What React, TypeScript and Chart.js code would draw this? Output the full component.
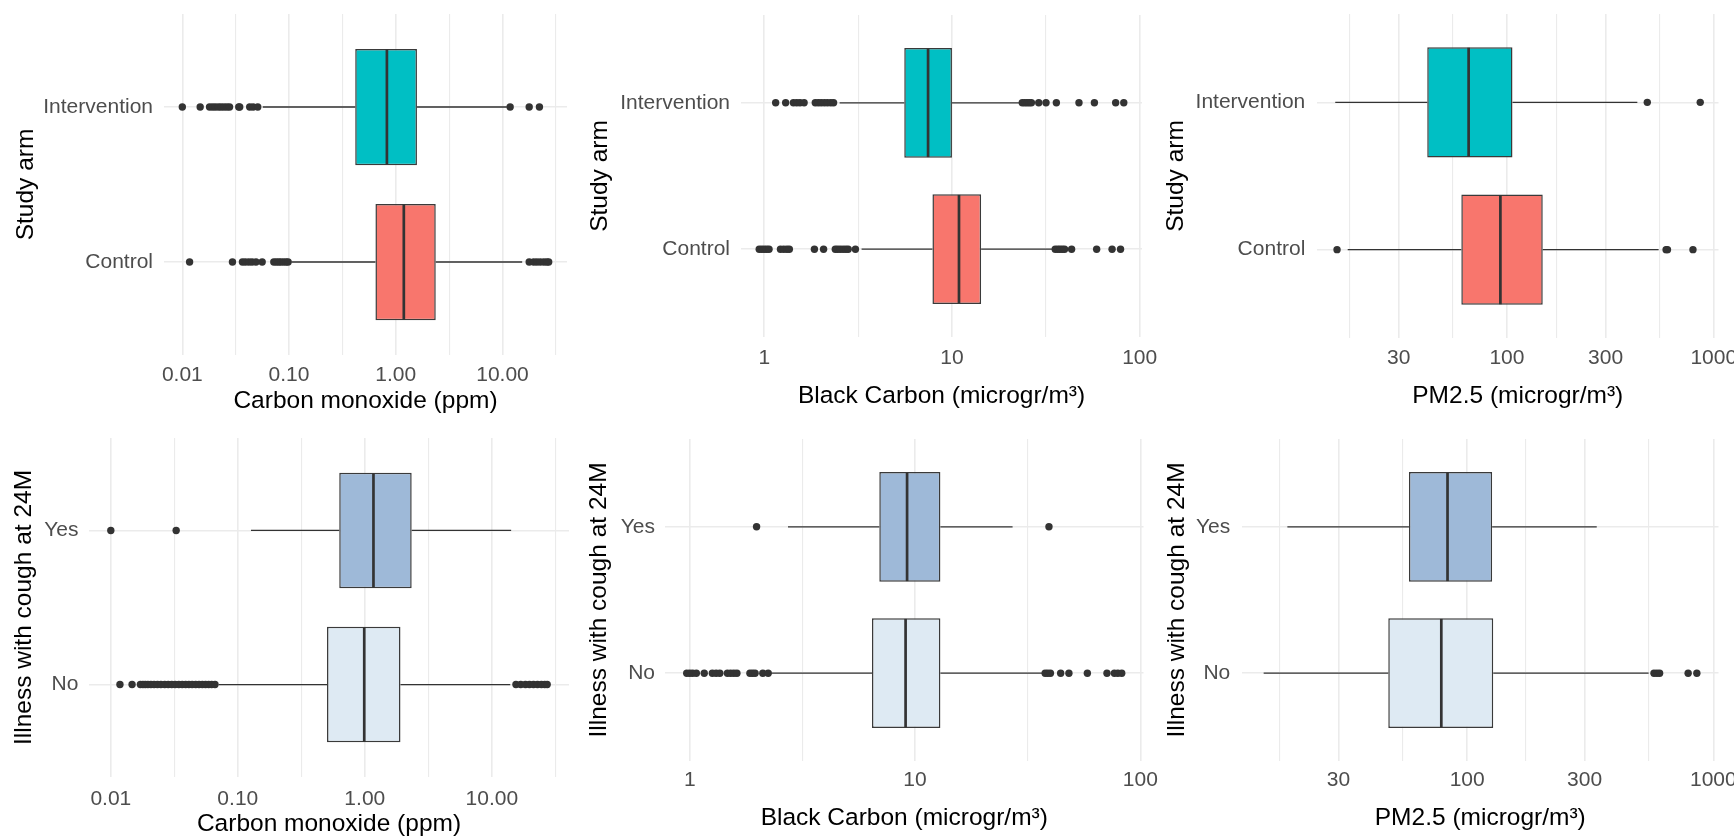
import React, { useEffect, useRef } from 'react';
import { Chart, registerables } from 'chart.js';

Chart.register(...registerables);

const FONT = '"Liberation Sans", Arial, Helvetica, sans-serif';

// ---- Groups (bottom to top) ----
const ARM_GROUPS = ['Control', 'Intervention'];
const COUGH_GROUPS = ['No', 'Yes'];
const ARM_COLORS = ['#F8766D', '#00BFC4'];
const COUGH_COLORS = ['#DEEAF3', '#9EB9D8'];

// ---- Box stats: [lower whisker, Q1, median, Q3, upper whisker] ----
const CO_ARM_STATS = [
  [0.105, 0.645, 1.19, 2.37, 15.3],
  [0.0567, 0.417, 0.826, 1.58, 11.0],
];
const CO_ARM_OUTLIERS = [
  [0.0117, 0.0295, 0.0366, 0.039, 0.042, 0.045, 0.049, 0.056, 0.072, 0.076, 0.08, 0.084, 0.089, 0.094, 0.098,
    17.8, 19.6, 21.0, 22.6, 24.4, 26.0, 27.1],
  [0.01, 0.0147, 0.018, 0.0192, 0.0204, 0.0218, 0.0231, 0.0246, 0.0262, 0.0277, 0.0338, 0.0345, 0.0428, 0.046, 0.0509,
    11.8, 17.8, 22.2],
];

const BC_ARM_STATS = [
  [3.3, 7.87, 10.9, 14.3, 34.7],
  [2.52, 5.57, 7.46, 10.0, 23.2],
];
const BC_ARM_OUTLIERS = [
  [0.94, 0.97, 1.0, 1.03, 1.06, 1.22, 1.27, 1.32, 1.36, 1.85, 2.07, 2.39, 2.46, 2.54, 2.63, 2.72, 2.8, 3.06,
    35.5, 36.6, 37.6, 38.7, 39.8, 43.4, 59.0, 71.3, 79.1],
  [1.15, 1.3, 1.43, 1.49, 1.55, 1.63, 1.87, 1.94, 2.01, 2.09, 2.17, 2.26, 2.34,
    23.7, 24.4, 25.1, 25.8, 26.5, 29.0, 31.7, 36.0, 47.5, 57.4, 74.5, 82.3],
];

const PM_ARM_STATS = [
  [17.0, 60.2, 93.0, 149, 541],
  [14.8, 41.2, 65.3, 106.4, 427],
];
const PM_ARM_OUTLIERS = [
  [15.1, 588, 597, 793],
  [477, 860],
];

const CO_COUGH_STATS = [
  [0.0706, 0.504, 0.99, 1.91, 13.97],
  [0.127, 0.629, 1.17, 2.34, 14.2],
];
const CO_COUGH_OUTLIERS = [
  [0.0118, 0.0147, 0.0171, 0.0179, 0.0187, 0.0196, 0.0207, 0.0219, 0.0233, 0.0248, 0.0266, 0.0283, 0.0302,
    0.0321, 0.0343, 0.0365, 0.0388, 0.0412, 0.0437, 0.0466, 0.0495, 0.0526, 0.0557, 0.0589, 0.0622, 0.0661,
    15.5, 16.9, 18.4, 19.8, 21.3, 22.9, 24.6, 26.1, 27.3],
  [0.01, 0.0327],
];

const BC_COUGH_STATS = [
  [2.3, 6.44, 9.08, 12.96, 37.4],
  [2.73, 6.94, 9.22, 12.96, 27.1],
];
const BC_COUGH_OUTLIERS = [
  [0.97, 1.0, 1.03, 1.07, 1.16, 1.26, 1.31, 1.36, 1.47, 1.52, 1.57, 1.62, 1.85, 1.9, 1.95, 2.11, 2.23,
    37.8, 38.8, 39.9, 44.3, 48.2, 58.2, 71.1, 76.7, 79.5, 82.7],
  [1.98, 39.3],
];

const PM_COUGH_STATS = [
  [14.9, 47.8, 78.5, 127.6, 546],
  [18.6, 58.0, 83.2, 126.3, 336],
];
const PM_COUGH_OUTLIERS = [
  [574, 590, 605, 790, 857],
  [],
];

// ---- Axis ticks ----
const CO_MAJOR = [0.01, 0.1, 1, 10];
const CO_LABELS = ['0.01', '0.10', '1.00', '10.00'];
const CO_MINOR = [0.00316, 0.0316, 0.316, 3.16, 31.6];
const BC_MAJOR = [1, 10, 100];
const BC_LABELS = ['1', '10', '100'];
const BC_MINOR = [0.316, 3.16, 31.6];
const PM_MAJOR = [30, 100, 300, 1000];
const PM_LABELS = ['30', '100', '300', '1000'];
const PM_MINOR = [17.3, 54.8, 173, 548];

// ---- Titles ----
const CO_TITLE = 'Carbon monoxide (ppm)';
const BC_TITLE = 'Black Carbon (microgr/m³)';
const PM_TITLE = 'PM2.5 (microgr/m³)';
const ARM_TITLE = 'Study arm';
const COUGH_TITLE = 'Illness with cough at 24M';

type Layout = {
  x: number; y: number; w: number; h: number;
  yW: number; xH: number; padTop: number; padRight: number;
  yTickPad: number; yTitlePad: number; xTickPad: number; xTitlePad: number;
};

type PanelProps = {
  groups: string[];
  colors: string[];
  stats: number[][];
  outliers: number[][];
  major: number[];
  majorLabels: string[];
  minor: number[];
  xTitle: string;
  yTitle: string;
  L: Layout;
};

function BoxPanel(props: PanelProps) {
  const ref = useRef<HTMLCanvasElement>(null);
  useEffect(() => {
    const { groups, colors, stats, outliers, major, majorLabels, minor, xTitle, yTitle, L } = props;
    const all = stats.flat().concat(outliers.flat());
    const lo = Math.log10(Math.min(...all));
    const hi = Math.log10(Math.max(...all));
    const ex = (hi - lo) * 0.05;
    const xmin = Math.pow(10, lo - ex);
    const xmax = Math.pow(10, hi + ex);
    const xticks = major
      .map((v, i) => ({ value: v, major: true, lab: majorLabels[i] }))
      .concat(minor.map((v) => ({ value: v, major: false, lab: '' })))
      .filter((t) => t.value >= xmin && t.value <= xmax)
      .sort((a, b) => a.value - b.value);

    const parts = {
      id: 'boxParts',
      beforeDatasetsDraw(chart: any) {
        const ctx = chart.ctx;
        const xs = chart.scales.x;
        const ys = chart.scales.y;
        ctx.save();
        ctx.strokeStyle = '#333333';
        ctx.lineWidth = 1.3;
        stats.forEach((s, i) => {
          const y = ys.getPixelForValue(i + 1);
          ctx.beginPath();
          ctx.moveTo(xs.getPixelForValue(s[0]), y);
          ctx.lineTo(xs.getPixelForValue(s[1]), y);
          ctx.moveTo(xs.getPixelForValue(s[3]), y);
          ctx.lineTo(xs.getPixelForValue(s[4]), y);
          ctx.stroke();
        });
        ctx.restore();
      },
      afterDatasetsDraw(chart: any) {
        const ctx = chart.ctx;
        const xs = chart.scales.x;
        const meta = chart.getDatasetMeta(0);
        ctx.save();
        ctx.strokeStyle = '#333333';
        ctx.lineWidth = 2.7;
        meta.data.forEach((el: any, i: number) => {
          const p = el.getProps(['y', 'height'], true);
          const x = xs.getPixelForValue(stats[i][2]);
          ctx.beginPath();
          ctx.moveTo(x, p.y - p.height / 2 + 0.6);
          ctx.lineTo(x, p.y + p.height / 2 - 0.6);
          ctx.stroke();
        });
        ctx.restore();
      },
    };

    const tickFont = { family: FONT, size: 21 };
    const titleFont = { family: FONT, size: 24.5 };

    const chart = new Chart(ref.current as HTMLCanvasElement, {
      type: 'bar',
      data: {
        datasets: [
          {
            type: 'bar',
            data: stats.map((s, i) => ({ x: [s[1], s[3]], y: i + 1 })) as any,
            backgroundColor: colors,
            borderColor: '#3A3A3A',
            borderWidth: 1.5,
            borderSkipped: false,
            barPercentage: 0.75,
            categoryPercentage: 1,
            grouped: false,
          } as any,
          {
            type: 'scatter',
            data: outliers.flatMap((arr, i) => arr.map((v) => ({ x: v, y: i + 1 }))),
            pointRadius: 3.7,
            pointHoverRadius: 3.7,
            pointBackgroundColor: '#333333',
            pointBorderWidth: 0,
            showLine: false,
          } as any,
        ],
      },
      options: {
        responsive: false,
        animation: false,
        devicePixelRatio: 1,
        indexAxis: 'y',
        events: [],
        layout: { padding: { left: 0, right: L.padRight, top: L.padTop, bottom: 0 } },
        plugins: {
          legend: { display: false },
          tooltip: { enabled: false },
          title: { display: false },
        },
        scales: {
          x: {
            type: 'logarithmic',
            min: xmin,
            max: xmax,
            bounds: 'data',
            offset: false,
            afterBuildTicks: (s: any) => {
              s.ticks = xticks.map((t) => ({ ...t }));
            },
            afterFit: (s: any) => {
              s.height = L.xH;
              s.paddingLeft = 0;
              s.paddingRight = 0;
            },
            grid: {
              color: '#EBEBEB',
              lineWidth: (c: any) => (c.tick && c.tick.major ? 1.6 : 1.1),
              drawTicks: false,
              offset: false,
            },
            border: { display: false },
            ticks: {
              autoSkip: false,
              maxRotation: 0,
              minRotation: 0,
              padding: L.xTickPad,
              color: '#4D4D4D',
              font: tickFont,
              callback: (_v: any, i: number, arr: any[]) => arr[i].lab,
            },
            title: {
              display: true,
              text: xTitle,
              color: '#000000',
              font: titleFont,
              padding: { top: 0, bottom: L.xTitlePad },
            },
          } as any,
          y: {
            type: 'linear',
            min: 0.4,
            max: 2.6,
            bounds: 'data',
            offset: false,
            afterBuildTicks: (s: any) => {
              s.ticks = groups.map((_g, i) => ({ value: i + 1 }));
            },
            afterFit: (s: any) => {
              s.width = L.yW;
              s.paddingTop = 0;
              s.paddingBottom = 0;
            },
            grid: { color: '#EBEBEB', lineWidth: 1.6, drawTicks: false, offset: false },
            border: { display: false },
            ticks: {
              padding: L.yTickPad,
              color: '#4D4D4D',
              font: tickFont,
              callback: (v: any) => groups[Math.round(Number(v)) - 1],
            },
            title: {
              display: true,
              text: yTitle,
              color: '#000000',
              font: titleFont,
              padding: { top: L.yTitlePad, bottom: 0 },
            },
          } as any,
        },
      } as any,
      plugins: [parts as any],
    });
    return () => chart.destroy();
  }, []);

  const L = props.L;
  return (
    <div style={{ position: 'absolute', left: L.x, top: L.y, width: L.w, height: L.h }}>
      <canvas ref={ref} width={L.w} height={L.h} style={{ width: L.w, height: L.h, display: 'block' }} />
    </div>
  );
}

const PANELS: PanelProps[] = [
  {
    groups: ARM_GROUPS, colors: ARM_COLORS, stats: CO_ARM_STATS, outliers: CO_ARM_OUTLIERS,
    major: CO_MAJOR, majorLabels: CO_LABELS, minor: CO_MINOR, xTitle: CO_TITLE, yTitle: ARM_TITLE,
    L: { x: 0, y: 0, w: 578, h: 420, yW: 164, xH: 65, padTop: 14, padRight: 11, yTickPad: 11, yTitlePad: 11.5, xTickPad: 8, xTitlePad: 3.9 },
  },
  {
    groups: ARM_GROUPS, colors: ARM_COLORS, stats: BC_ARM_STATS, outliers: BC_ARM_OUTLIERS,
    major: BC_MAJOR, majorLabels: BC_LABELS, minor: BC_MINOR, xTitle: BC_TITLE, yTitle: ARM_TITLE,
    L: { x: 578, y: 0, w: 586, h: 420, yW: 163, xH: 83, padTop: 15, padRight: 22, yTickPad: 11, yTitlePad: 7.6, xTickPad: 9, xTitlePad: 8.9 },
  },
  {
    groups: ARM_GROUPS, colors: ARM_COLORS, stats: PM_ARM_STATS, outliers: PM_ARM_OUTLIERS,
    major: PM_MAJOR, majorLabels: PM_LABELS, minor: PM_MINOR, xTitle: PM_TITLE, yTitle: ARM_TITLE,
    L: { x: 1156, y: 0, w: 578, h: 420, yW: 161, xH: 82, padTop: 14, padRight: 15.5, yTickPad: 11.7, yTitlePad: 6, xTickPad: 8, xTitlePad: 8.9 },
  },
  {
    groups: COUGH_GROUPS, colors: COUGH_COLORS, stats: CO_COUGH_STATS, outliers: CO_COUGH_OUTLIERS,
    major: CO_MAJOR, majorLabels: CO_LABELS, minor: CO_MINOR, xTitle: CO_TITLE, yTitle: COUGH_TITLE,
    L: { x: 0, y: 420, w: 578, h: 419, yW: 89, xH: 62, padTop: 18, padRight: 9, yTickPad: 10.6, yTitlePad: 9.6, xTickPad: 9.3, xTitlePad: 0 },
  },
  {
    groups: COUGH_GROUPS, colors: COUGH_COLORS, stats: BC_COUGH_STATS, outliers: BC_COUGH_OUTLIERS,
    major: BC_MAJOR, majorLabels: BC_LABELS, minor: BC_MINOR, xTitle: BC_TITLE, yTitle: COUGH_TITLE,
    L: { x: 578, y: 420, w: 586, h: 419, yW: 87, xH: 78, padTop: 19, padRight: 20.5, yTickPad: 10, yTitlePad: 6.1, xTickPad: 7, xTitlePad: 6.3 },
  },
  {
    groups: COUGH_GROUPS, colors: COUGH_COLORS, stats: PM_COUGH_STATS, outliers: PM_COUGH_OUTLIERS,
    major: PM_MAJOR, majorLabels: PM_LABELS, minor: PM_MINOR, xTitle: PM_TITLE, yTitle: COUGH_TITLE,
    L: { x: 1156, y: 420, w: 578, h: 419, yW: 86, xH: 78, padTop: 19, padRight: 15.5, yTickPad: 11.7, yTitlePad: 6.1, xTickPad: 7, xTitlePad: 6.3 },
  },
];

export default function App() {
  return (
    <div
      style={{
        position: 'absolute', left: 0, top: 0, width: 1734, height: 839,
        background: '#ffffff', overflow: 'hidden',
      }}
    >
      {PANELS.map((p, i) => (
        <BoxPanel key={i} {...p} />
      ))}
    </div>
  );
}
